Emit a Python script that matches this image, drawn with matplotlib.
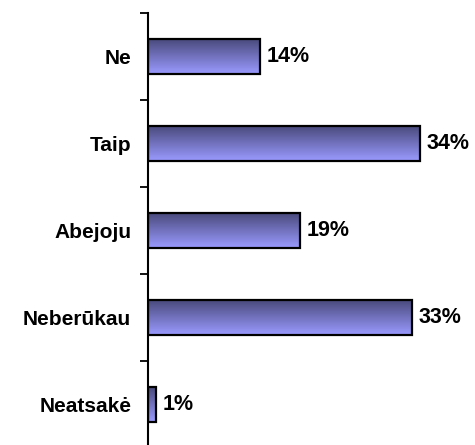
import numpy as np
import matplotlib.pyplot as plt
from matplotlib.colors import to_rgb

# survey answers, top to bottom
categories = ["Ne", "Taip", "Abejoju", "Neberūkau", "Neatsakė"]
values = [14, 34, 19, 33, 1]
value_labels = ["14%", "34%", "19%", "33%", "1%"]

plt.rcParams['font.family'] = ['Liberation Sans', 'DejaVu Sans']

fig = plt.figure(figsize=(4.75, 4.45), dpi=100)
# axes runs a few pixels past the bottom edge, like in the original
ax = fig.add_axes([148/475, -3/445, 320/475, 435/445])

ypos = np.arange(len(categories))
bar_h = 0.41
bars = ax.barh(ypos, values, height=bar_h, color='none', edgecolor='black', linewidth=1.6, zorder=3)

# vertical gradient fill, dark at the top
top_c = np.array(to_rgb('#48487a'))
bot_c = np.array(to_rgb('#9a9aff'))
t = np.linspace(0, 1, 64)[:, None, None]
grad = top_c * (1 - t) + bot_c * t
for b, y, v in zip(bars, ypos, values):
    im = ax.imshow(grad, extent=(0, v, y + bar_h/2, y - bar_h/2), origin='upper',
                   aspect='auto', zorder=2, interpolation='bilinear')
    im.set_clip_path(b)

for y, v, lab in zip(ypos, values, value_labels):
    ax.text(v + 0.85, y, lab, va='center', ha='left', fontsize=15.5, fontweight='bold')

ax.set_xlim(0, 40)
ax.set_ylim(4.5, -0.5)
ax.set_yticks(np.arange(-0.5, 5, 1))
ax.set_yticklabels([])
ax.set_yticks(ypos, minor=True)
ax.set_yticklabels(categories, minor=True, fontsize=15, fontweight='bold')
ax.tick_params(axis='y', which='major', length=6, width=1.3, direction='out')
ax.tick_params(axis='y', which='minor', length=0, pad=12)
ax.set_xticks([])
for s in ['top', 'right', 'bottom']:
    ax.spines[s].set_visible(False)
ax.spines['left'].set_linewidth(1.5)

fig.savefig('out.png', dpi=100)
